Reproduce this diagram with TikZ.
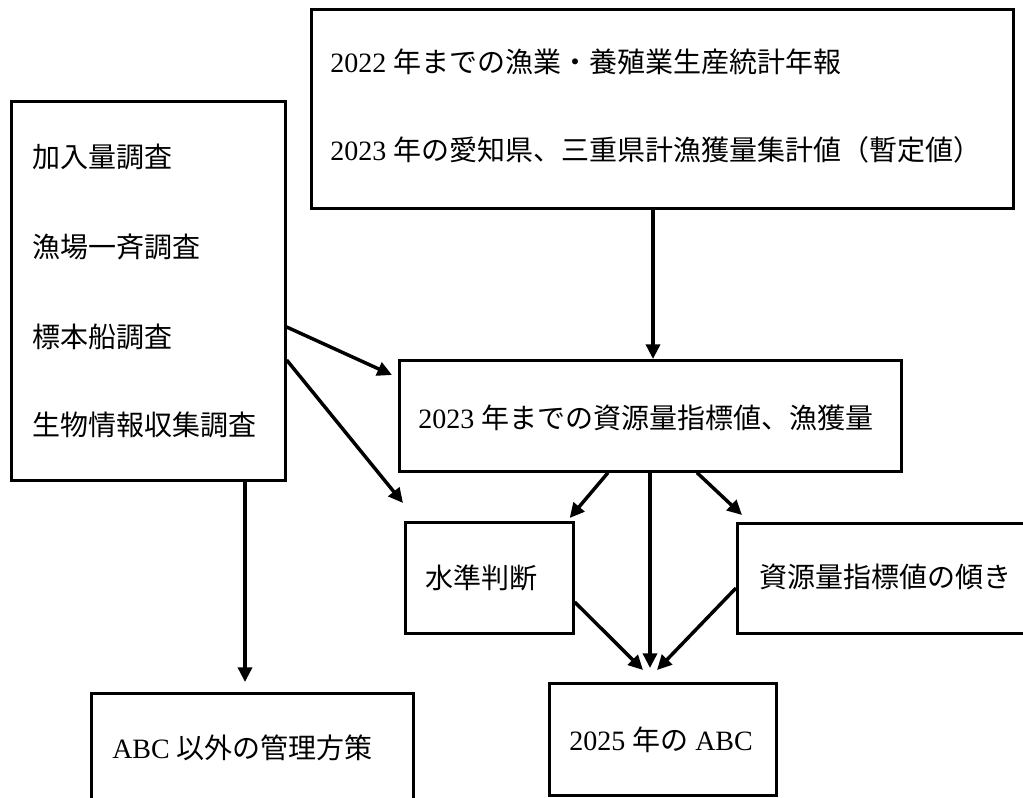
\documentclass[tikz,border=0pt]{standalone}
\usepackage{fontspec}
\setmainfont{Liberation Serif}
\newfontfamily\jp{Noto Sans CJK JP}
\newcommand{\J}[1]{{\jp #1}}
\usetikzlibrary{arrows.meta,calc}
\begin{document}
\begin{tikzpicture}[x=0.75pt,y=-0.75pt,
  box/.style={draw,line width=2pt,inner sep=0pt,anchor=north west},
  txt/.style={inner sep=0pt,anchor=west,font=\fontsize{21pt}{25pt}\selectfont},
  arr/.style={line width=2.6pt,-{Triangle[length=11pt,width=10.5pt]}}]
\useasboundingbox (0,0) rectangle (1023,798);
\clip (0,0) rectangle (1023,798);
\fill[white] (0,0) rectangle (1023,798);
% boxes
\node[box,minimum width=526.5pt,minimum height=149.25pt] (T) at (310,8) {};
\node[box,minimum width=205.5pt,minimum height=284.25pt] (L) at (10,100) {};
\node[box,minimum width=376.5pt,minimum height=83.25pt] (M) at (398,359) {};
\node[box,minimum width=126pt,minimum height=83.25pt] (S) at (404,521) {};
\node[box,minimum width=232.5pt,minimum height=82.5pt] (G) at (736,522) {};
\node[box,minimum width=170.25pt,minimum height=84pt] (A) at (548,682) {};
\node[box,minimum width=241.5pt,minimum height=97.5pt] (O) at (90,692) {};
% texts
\node[txt] (t1) at (330,62) {2022 \J{年までの漁業・養殖業生産統計年報}};
\node[txt] (t2) at (330,150) {2023 \J{年の愛知県、三重県計漁獲量集計値（暫定値）}};
\node[txt] (l1) at (32,157) {\J{加入量調査}};
\node[txt] (l2) at (32,247) {\J{漁場一斉調査}};
\node[txt] (l3) at (32,337) {\J{標本船調査}};
\node[txt] (l4) at (32,425) {\J{生物情報収集調査}};
\node[txt] (m1) at (418,418) {2023 \J{年までの資源量指標値、漁獲量}};
\node[txt] (s1) at (425,578) {\J{水準判断}};
\node[txt] (g1) at (759,577) {\J{資源量指標値の傾き}};
\node[txt] (a1) at (569,740) {2025 \J{年の} ABC};
\node[txt] (o1) at (112,748) {ABC \J{以外の管理方策}};
% connectors
\draw[arr] ($(T.south west)+(343,0)$) -- ($(M.north west)+(255,0)$);
\draw[arr] ($(L.north east)+(0,227)$) -- ($(M.north west)+(-6,16)$);
\draw[arr] ($(L.north east)+(0,260)$) -- ($(S.north west)+(-1,-18)$);
\draw[arr] ($(L.south west)+(235,0)$) -- ($(O.north west)+(155,-10)$);
\draw[arr] ($(M.south west)+(210,0)$) -- ($(S.north east)+(-5,-3)$);
\draw[arr] ($(M.south west)+(252,0)$) -- ($(A.north west)+(102,-14)$);
\draw[arr] ($(M.south west)+(299,0)$) -- ($(G.north west)+(6,-7)$);
\draw[arr] ($(S.north east)+(0,81)$) -- ($(A.north west)+(95,-12)$);
\draw[arr] ($(G.north west)+(0,66)$) -- ($(A.north west)+(109,-12)$);
\end{tikzpicture}
\end{document}
